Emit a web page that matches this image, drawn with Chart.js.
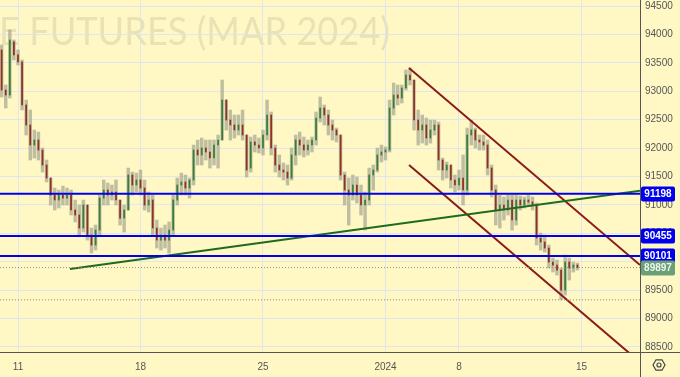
<!DOCTYPE html>
<html><head><meta charset="utf-8">
<script src="https://cdn.jsdelivr.net/npm/chart.js@4/dist/chart.umd.min.js"></script>
<style>html,body{margin:0;padding:0;background:#fff8c5;overflow:hidden}#wrap{width:680px;height:377px}</style>
</head><body><div id="wrap"><canvas id="c" width="680" height="377"></canvas></div>
<script>
// ---- data (trading-day offsets from Dec 11; 6 bars per day) ----
const barStartDay = -2/3;
const barsPerDay = 6;
const opens = [93726,93022,92934,93867,93638,93515,92758,92406,92054,92142,
91966,91702,91473,91174,91086,91174,91121,91174,90910,90822,
90593,90998,90470,90294,90558,91121,91262,91174,91227,91086,
90769,90910,91526,91350,91438,91297,90998,91086,90593,90382,
90470,90382,90558,91086,91350,91403,91297,91438,91966,91878,
92001,91931,91825,92054,92142,92846,92494,92406,92318,92406,
92230,91649,92107,92054,92001,92230,92582,92001,91702,91614,
91579,91473,91878,92142,92054,91966,92054,92142,92529,92705,
92582,92406,92318,92230,91526,91262,91174,91350,91174,90998,
91086,91526,91614,91878,91931,91966,92705,92934,92881,93057,
93286,93198,92494,92318,92406,92177,92318,92406,91790,91614,
91702,91438,91350,91473,91262,92230,92318,92142,92107,92054,
91649,91262,90910,90998,90910,91086,90734,91086,90998,91086,
91051,90998,90417,90347,90241,89995,89942,89854,89502,89995,
89889,89942];
const highs = [93814,93110,94078,93902,93726,93550,92846,92670,92318,92283,
92001,91790,91473,91297,91262,91332,91297,91262,91086,90998,
91086,90998,90593,90646,91174,91438,91385,91350,91438,91086,
90998,91649,91579,91561,91614,91438,91227,91174,90734,90593,
90646,90699,91174,91473,91561,91526,91473,92054,92142,92177,
92142,92142,92142,92230,93198,92846,92670,92582,92582,92670,
92230,92195,92230,92177,92318,92846,92635,92054,91878,91737,
91702,92001,92230,92283,92195,92142,92195,92635,92899,92758,
92670,92494,92353,92230,91579,91473,91526,91491,91350,91227,
91649,91702,92001,92054,92019,92846,93145,93110,93110,93374,
93409,93198,92670,92582,92529,92494,92494,92459,91825,91755,
91702,91526,91614,91878,92353,92494,92353,92230,92230,92142,
91702,91350,91174,91139,91174,91174,91174,91156,91139,91174,
91139,91033,90505,90470,90294,90065,90030,89889,90118,90065,
89995,89977];
const lows = [92899,92705,92881,93550,93462,92670,92230,91790,91825,91790,
91579,91403,90998,90910,90945,90998,90998,90822,90699,90470,
90523,90382,90153,90206,90470,90998,90998,91086,90998,90646,
90523,90910,91174,91227,91174,90910,90875,90470,90241,90206,
90241,90153,90470,90998,91174,91174,91121,91350,91702,91702,
91790,91649,91702,91649,92142,92318,92142,92177,92230,92142,
91491,91579,91931,91913,91878,92142,91878,91579,91491,91438,
91350,91438,91702,91878,91843,91878,91931,92054,92459,92406,
92230,92142,92107,91438,90998,90646,91086,91033,90822,90558,
90998,91262,91579,91755,91790,91931,92582,92758,92793,93022,
93110,92318,92054,92089,92054,92089,92230,91614,91438,91473,
91297,91227,91262,90998,91174,92054,92001,91966,91966,91526,
91139,90646,90593,90734,90822,90558,90646,90910,90945,90998,
90910,90294,90206,90171,89889,89819,89766,89330,89414,89678,
89819,89854];
const closes = [93022,92934,93902,93638,93515,92758,92406,92054,92142,91966,
91702,91473,91174,91086,91174,91121,91174,90910,90822,90593,
90998,90470,90294,90558,91121,91262,91174,91227,91086,90769,
90910,91526,91350,91438,91297,90998,91086,90593,90382,90470,
90382,90558,91086,91350,91403,91297,91438,91966,91878,92001,
91931,91825,92054,92142,92846,92494,92406,92318,92406,92230,
91614,92107,92054,92001,92230,92582,92001,91702,91614,91579,
91473,91878,92142,92054,91966,92054,92142,92529,92705,92582,
92406,92318,92230,91526,91262,91174,91350,91174,90998,91086,
91526,91614,91878,91931,91966,92705,92934,92881,93057,93286,
93198,92494,92318,92406,92177,92318,92406,91790,91614,91702,
91438,91350,91473,91262,92230,92318,92142,92107,92054,91649,
91262,90910,90998,90910,91086,90734,91086,90998,91086,91051,
90998,90417,90347,90241,89995,89942,89854,89502,89995,89889,
89942,89897];

const tickDays = [0, 5, 10, 15, 18, 23];
const tickLabels = ['11', '18', '25', '2024', '8', '15'];
const priceTicks = [88500,89000,89500,90000,90500,91000,91500,92000,92500,93000,93500,94000,94500];
const levelPrices = [91198, 90455, 90101];
const lastPrice = 89897;
const sessionLow = 89330;
const trendDays = [2.12, 25.39];
const trendPrices = [89872, 91251];
const upperDays = [15.96, 25.39];
const upperPrices = [93409, 89943];
const lowerDays = [15.96, 25.39];
const lowerPrices = [91702, 88232];
const watermarkText = 'USD/RUB EXCHANGE RATE FUTURES (MAR 2024)';
const watermarkTail = 'E FUTURES (MAR 2024)';

// ---- view ----
const X_MIN = -0.7347, X_MAX = 25.3878;
const Y_MIN = 88412, Y_MAX = 94606;
const BG = '#fff8c5';

const xs = opens.map((_, i) => barStartDay + i / barsPerDay);
const wickData = xs.map((x, i) => ({x, y: [lows[i], highs[i]]}));
const bodyData = xs.map((x, i) => ({x, y: [Math.min(opens[i], closes[i]), Math.max(opens[i], closes[i]) + 1]}));
const bodyColors = closes.map((c, i) => c >= opens[i] ? '#3a7d3c' : '#8e3322');

const seg = (ds, ps) => ds.map((d, i) => ({x: d, y: ps[i]}));
const hline = p => [{x: X_MIN, y: p}, {x: X_MAX, y: p}];
const lineDs = (data, color, w, dash) => ({type: 'line', data, borderColor: color, borderWidth: w,
  borderDash: dash || [], pointRadius: 0, fill: false, tension: 0, order: 0});

const datasets = [
  ...levelPrices.map(p => lineDs(hline(p), '#0000ee', 2)),
  lineDs(hline(lastPrice), '#8a8a80', 1, [1, 2]),
  lineDs(hline(sessionLow), '#8a8a80', 1, [1, 2]),
  lineDs(seg(trendDays, trendPrices), '#1e6a1e', 2),
  lineDs(seg(upperDays, upperPrices), '#8b1a1a', 2),
  lineDs(seg(lowerDays, lowerPrices), '#8b1a1a', 2),
  {type: 'bar', data: bodyData, backgroundColor: bodyColors, barThickness: 1.1, grouped: false, order: 1},
  {type: 'bar', data: wickData, backgroundColor: 'rgba(168,168,145,0.72)', barThickness: 2.8, grouped: false, order: 2},
];

const decor = {
  id: 'decor',
  beforeDraw(chart) {
    const {ctx, width, height} = chart;
    ctx.save();
    ctx.fillStyle = BG;
    ctx.fillRect(0, 0, width, height);
    ctx.beginPath(); ctx.rect(0, 0, 640, 352); ctx.clip();
    ctx.font = '39px Lato';
    const w = ctx.measureText(watermarkTail).width;
    const sx = 391 / w;
    ctx.translate(390, 45);
    ctx.scale(sx, 1);
    ctx.textAlign = 'right';
    ctx.textBaseline = 'alphabetic';
    ctx.fillStyle = 'rgba(95,95,80,0.14)';
    ctx.fillText(watermarkText, 0, 0);
    ctx.restore();
  },
  afterDraw(chart) {
    const {ctx} = chart;
    const y = chart.scales.y;
    ctx.save();
    ctx.strokeStyle = '#555';
    ctx.lineWidth = 1;
    ctx.beginPath();
    ctx.moveTo(0, 352.5); ctx.lineTo(680, 352.5);
    ctx.moveTo(640.5, 0); ctx.lineTo(640.5, 377);
    ctx.stroke();
    const box = (price, bg, fg) => {
      const py = Math.round(y.getPixelForValue(price));
      ctx.fillStyle = bg;
      ctx.beginPath();
      ctx.roundRect(641, py - 7.5, 34, 15, 2);
      ctx.fill();
      ctx.fillStyle = fg;
      ctx.font = 'bold 10px "Liberation Sans"';
      ctx.textAlign = 'center';
      ctx.textBaseline = 'middle';
      ctx.fillText(String(price), 658, py + 0.5);
    };
    levelPrices.forEach(p => box(p, '#0000ee', '#ffffff'));
    box(lastPrice, '#6a9f78', '#eef6ee');
    // settings icon
    ctx.strokeStyle = '#444';
    ctx.lineWidth = 1.2;
    ctx.beginPath();
    for (let i = 0; i < 6; i++) {
      const a = Math.PI / 3 * i;
      const px = 659 + 6 * Math.cos(a), py = 365 + 6 * Math.sin(a);
      i ? ctx.lineTo(px, py) : ctx.moveTo(px, py);
    }
    ctx.closePath(); ctx.stroke();
    ctx.beginPath(); ctx.arc(659, 365, 2, 0, Math.PI * 2); ctx.stroke();
    ctx.restore();
  }
};

const noPad = s => { s.paddingTop = 0; s.paddingBottom = 0; s.paddingLeft = 0; s.paddingRight = 0; };
const gridColor = 'rgba(222,226,244,0.9)';
new Chart(document.getElementById('c'), {
  type: 'bar',
  data: {datasets},
  plugins: [decor],
  options: {
    responsive: false, animation: false, devicePixelRatio: 1,
    layout: {padding: 0},
    plugins: {legend: {display: false}, tooltip: {enabled: false}},
    scales: {
      x: {
        type: 'linear', min: X_MIN, max: X_MAX, offset: false,
        afterBuildTicks: s => { s.ticks = tickDays.map(v => ({value: v})); },
        afterFit: s => { s.height = 25; noPad(s); },
        grid: {color: gridColor, drawTicks: false, offset: false},
        border: {display: false},
        ticks: {autoSkip: false, maxRotation: 0, padding: 9, color: '#555',
          font: {family: 'Liberation Sans', size: 10},
          callback: v => tickLabels[tickDays.indexOf(v)] ?? ''}
      },
      y: {
        position: 'right', min: Y_MIN, max: Y_MAX,
        afterBuildTicks: s => { s.ticks = priceTicks.map(v => ({value: v})); },
        afterFit: s => { s.width = 40; noPad(s); },
        grid: {color: gridColor, drawTicks: false},
        border: {display: false},
        ticks: {autoSkip: false, padding: 5, color: '#555',
          font: {family: 'Liberation Sans', size: 10},
          callback: v => String(v)}
      }
    }
  }
});
</script></body></html>
